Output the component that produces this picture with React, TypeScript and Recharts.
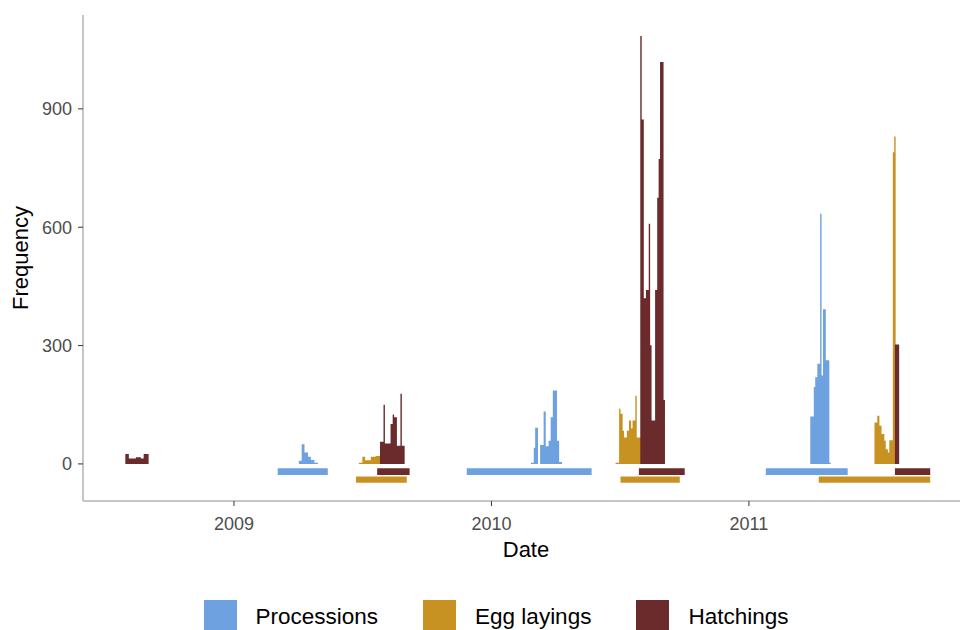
import React from 'react';
import { ComposedChart, Area, XAxis, YAxis, ReferenceArea } from 'recharts';

type Step = [string, number]; // [first day of the run, daily count]
type Period = [string, string]; // [start, end] of an activity season

// Daily counts, written as runs: each count holds until the next date.
const processions2009: Step[] = [
  ['2009-04-03', 8], ['2009-04-07', 50], ['2009-04-11', 29], ['2009-04-16', 18],
  ['2009-04-20', 10], ['2009-04-25', 3], ['2009-04-30', 0],
];
const processions2010: Step[] = [
  ['2010-02-26', 3], ['2010-03-02', 41], ['2010-03-04', 92], ['2010-03-08', 0],
  ['2010-03-11', 48], ['2010-03-16', 133], ['2010-03-19', 45], ['2010-03-23', 59],
  ['2010-03-26', 118], ['2010-03-29', 186], ['2010-04-04', 59], ['2010-04-07', 5],
  ['2010-04-11', 0],
];
const processions2011: Step[] = [
  ['2011-03-29', 120], ['2011-04-03', 195], ['2011-04-05', 220], ['2011-04-08', 254],
  ['2011-04-12', 634], ['2011-04-14', 224], ['2011-04-16', 392], ['2011-04-20', 263],
  ['2011-04-25', 3], ['2011-04-27', 0],
];

const eggLayings2009: Step[] = [
  ['2009-06-27', 3], ['2009-07-02', 18], ['2009-07-06', 9], ['2009-07-14', 18],
  ['2009-07-21', 20], ['2009-07-27', 12], ['2009-08-29', 0],
];
const eggLayings2010: Step[] = [
  ['2010-06-26', 3], ['2010-07-01', 140], ['2010-07-03', 127], ['2010-07-06', 84],
  ['2010-07-08', 67], ['2010-07-12', 84], ['2010-07-15', 110], ['2010-07-18', 90],
  ['2010-07-20', 110], ['2010-07-24', 173], ['2010-07-26', 67], ['2010-08-01', 30],
  ['2010-08-24', 0],
];
const eggLayings2011: Step[] = [
  ['2011-06-28', 105], ['2011-07-02', 122], ['2011-07-05', 97], ['2011-07-08', 76],
  ['2011-07-12', 59], ['2011-07-14', 37], ['2011-07-17', 29], ['2011-07-19', 60],
  ['2011-07-24', 790], ['2011-07-26', 830], ['2011-07-28', 0],
];

const hatchings2008: Step[] = [
  ['2008-07-31', 25], ['2008-08-05', 14], ['2008-08-15', 17], ['2008-08-22', 14],
  ['2008-08-26', 25], ['2008-09-02', 0],
];
const hatchings2009: Step[] = [
  ['2009-07-27', 56], ['2009-08-01', 150], ['2009-08-03', 52], ['2009-08-11', 101],
  ['2009-08-14', 125], ['2009-08-16', 118], ['2009-08-20', 46], ['2009-08-25', 178],
  ['2009-08-27', 46], ['2009-08-31', 0],
];
const hatchings2010: Step[] = [
  ['2010-07-31', 1085], ['2010-08-02', 873], ['2010-08-05', 420], ['2010-08-08', 441],
  ['2010-08-12', 609], ['2010-08-14', 301], ['2010-08-16', 110], ['2010-08-21', 441],
  ['2010-08-24', 675], ['2010-08-26', 773], ['2010-08-28', 1019], ['2010-09-02', 162],
  ['2010-09-04', 0],
];
const hatchings2011: Step[] = [['2011-07-27', 303], ['2011-08-02', 0]];

// Season extents, drawn as bands under the zero line
const processionPeriods: Period[] = [
  ['2009-03-04', '2009-05-14'], ['2009-11-27', '2010-05-23'], ['2011-01-25', '2011-05-21'],
];
const eggLayingPeriods: Period[] = [
  ['2009-06-23', '2009-09-03'], ['2010-07-03', '2010-09-25'], ['2011-04-10', '2011-09-15'],
];
const hatchingPeriods: Period[] = [
  ['2009-07-23', '2009-09-07'], ['2010-07-29', '2010-10-02'], ['2011-07-27', '2011-09-15'],
];

const yearTicks = ['2009-01-01', '2010-01-01', '2011-01-01'];
const frequencyTicks = [0, 300, 600, 900];
const dateRange: Period = ['2008-06-01', '2011-11-09'];
const frequencyRange: [number, number] = [-94, 1138];

const seriesNames = ['Processions', 'Egg layings', 'Hatchings'];
const seriesColors = ['#6DA1DF', '#C79222', '#6B2B2D'];

const FONT = '"Liberation Sans", Arial, Helvetica, sans-serif';

// Two lanes below zero for the season bands (in frequency units)
const upperLane: [number, number] = [-11, -28];
const lowerLane: [number, number] = [-32, -48];

const ms = (d: string) => Date.parse(d);
const toPoints = (steps: Step[]) => steps.map(([d, c]) => ({ t: ms(d), count: c }));

const series = [
  { name: seriesNames[0], color: seriesColors[0], points: toPoints([...processions2009, ...processions2010, ...processions2011]), periods: processionPeriods, lane: upperLane },
  { name: seriesNames[1], color: seriesColors[1], points: toPoints([...eggLayings2009, ...eggLayings2010, ...eggLayings2011]), periods: eggLayingPeriods, lane: lowerLane },
  { name: seriesNames[2], color: seriesColors[2], points: toPoints([...hatchings2008, ...hatchings2009, ...hatchings2010, ...hatchings2011]), periods: hatchingPeriods, lane: upperLane },
];

const XTitle = (props: any) => {
  const vb = props.viewBox || { x: 83, y: 501, width: 886, height: 60 };
  return (
    <text x={vb.x + vb.width / 2} y={vb.y + vb.height - 4} textAnchor="middle" fontSize={22} fill="#000" fontFamily={FONT}>
      Date
    </text>
  );
};

const YTitle = (props: any) => {
  const vb = props.viewBox || { x: 0, y: 15, width: 83, height: 486 };
  const cx = vb.x + 28;
  const cy = vb.y + vb.height / 2;
  return (
    <text x={cx} y={cy} transform={`rotate(-90, ${cx}, ${cy})`} textAnchor="middle" fontSize={22} fill="#000" fontFamily={FONT}>
      Frequency
    </text>
  );
};

const axisLine = { stroke: '#C6C6C6', strokeWidth: 2 };
const tickLine = { stroke: '#333333' };
const tickStyle = { fill: '#4D4D4D', fontSize: 18, fontFamily: FONT };

export default function App() {
  return (
    <div style={{ position: 'absolute', left: 0, top: 0, width: 960, height: 630, overflow: 'hidden', background: '#fff', fontFamily: FONT }}>
      <ComposedChart width={975} height={630} margin={{ top: 15, right: 6, bottom: 69, left: 0 }}>
        <XAxis
          type="number"
          dataKey="t"
          domain={[ms(dateRange[0]), ms(dateRange[1])]}
          ticks={yearTicks.map(ms)}
          tickFormatter={(t: number) => String(new Date(t).getUTCFullYear())}
          allowDataOverflow
          height={60}
          axisLine={axisLine}
          tickLine={tickLine}
          tickSize={5}
          tickMargin={11}
          tick={tickStyle}
          label={<XTitle />}
        />
        <YAxis
          type="number"
          domain={frequencyRange}
          ticks={frequencyTicks}
          allowDataOverflow
          width={83}
          axisLine={axisLine}
          tickLine={tickLine}
          tickSize={5}
          tickMargin={6}
          tick={tickStyle}
          label={<YTitle />}
        />
        {series.map((s) => (
          <Area
            key={s.name}
            name={s.name}
            data={s.points}
            dataKey="count"
            type="stepAfter"
            baseValue={0}
            fill={s.color}
            fillOpacity={1}
            stroke="none"
            dot={false}
            activeDot={false}
            isAnimationActive={false}
          />
        ))}
        {series.flatMap((s) =>
          s.periods.map(([start, end]) => (
            <ReferenceArea
              key={`${s.name}-${start}`}
              x1={ms(start)}
              x2={ms(end)}
              y1={s.lane[0]}
              y2={s.lane[1]}
              fill={s.color}
              fillOpacity={1}
              stroke="none"
            />
          ))
        )}
      </ComposedChart>
      <div
        style={{
          position: 'absolute', left: 0, top: 600, width: 960, paddingLeft: 32, boxSizing: 'border-box',
          display: 'flex', justifyContent: 'center', fontSize: 22.5, color: '#000',
        }}
      >
        {series.map((s, i) => (
          <div key={s.name} style={{ display: 'flex', alignItems: 'center', height: 33, marginRight: i < series.length - 1 ? 45 : 0 }}>
            <div style={{ width: 33, height: 33, background: s.color, marginRight: 19 }} />
            <span>{s.name}</span>
          </div>
        ))}
      </div>
    </div>
  );
}
